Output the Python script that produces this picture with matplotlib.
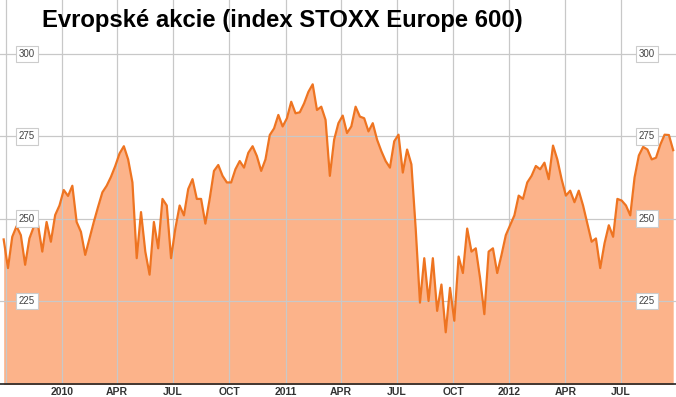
import matplotlib
matplotlib.use("Agg")
import matplotlib.pyplot as plt
import pandas as pd

# Weekly closes of STOXX Europe 600
values = [
    243.7, 235.0, 244.5, 247.7, 245.0, 236.0, 244.0, 247.5, 248.1, 240.0,
    249.0, 243.0, 251.1, 254.0, 258.7, 256.9, 260.0, 249.0, 246.0, 239.0,
    244.0, 249.0, 253.6, 258.0, 260.0, 262.7, 266.0, 269.8, 272.0, 268.0,
    261.0, 238.0, 252.0, 240.0, 233.0, 249.0, 241.0, 256.0, 254.0, 238.0,
    247.0, 254.0, 251.0, 259.0, 262.0, 256.0, 256.0, 248.5, 256.0, 264.5,
    266.3, 263.0, 261.0, 261.0, 265.0, 267.5, 265.5, 270.0, 272.0, 269.0,
    264.5, 268.0, 275.4, 277.4, 281.5, 278.0, 280.5, 285.5, 282.0, 282.3,
    285.0, 288.5, 290.8, 283.0, 284.0, 280.0, 263.0, 274.0, 279.0, 281.3,
    276.0, 278.0, 284.0, 281.0, 280.5, 276.5, 279.0, 274.0, 270.5, 267.5,
    265.5, 273.5, 275.5, 264.0, 271.0, 266.5, 247.0, 224.5, 238.0, 225.0,
    238.0, 222.0, 230.0, 215.5, 229.0, 219.0, 238.5, 233.5, 247.0, 240.0,
    241.0, 232.0, 221.0, 240.0, 241.0, 233.5, 239.0, 245.0, 248.0, 251.0,
    257.0, 256.0, 261.0, 263.0, 266.0, 265.0, 267.0, 262.0, 272.2, 268.0,
    262.0, 257.0, 258.5, 255.0, 258.5, 254.0, 248.5, 243.0, 244.0, 235.0,
    242.5, 248.0, 244.5, 256.0, 255.5, 254.0, 251.0, 262.5, 269.2, 271.8,
    271.0, 268.0, 268.5, 272.5, 275.5, 275.4, 270.8,
]
dates = pd.date_range("2009-09-28", periods=len(values), freq="7D")

tick_dates = pd.date_range("2009-10-01", "2012-07-01", freq="QS")
tick_labels = [str(d.year) if d.month == 1 else d.strftime("%b").upper() for d in tick_dates]
y_ticks = [225, 250, 275, 300]

fill_color = "#fcab7d"
line_color = "#ee7421"

fig = plt.figure(figsize=(6.76, 3.97), dpi=100)
ax = fig.add_axes([0, 13 / 397, 1, 384 / 397])

# grid sits under a slightly see-through fill, like the original
ax.grid(True, color="#c8c8c8", lw=0.9, zorder=0)
ax.fill_between(dates, values, 190, color=fill_color, alpha=0.9, zorder=1, lw=0)
ax.plot(dates, values, color=line_color, lw=1.6, zorder=3)

ax.set_xlim(pd.Timestamp("2009-09-22"), pd.Timestamp("2012-09-28 14:00"))
ax.set_ylim(199.8, 316.4)

ax.set_xticks(tick_dates)
ax.set_xticklabels(tick_labels)
ax.set_yticks(y_ticks)

ax.tick_params(axis="x", length=0, pad=2, labelsize=7.5, labelcolor="#333333")
ax.tick_params(axis="y", length=0, labelleft=False)
for lbl in ax.get_xticklabels():
    lbl.set_fontweight("bold")
    lbl.set_fontfamily("Liberation Sans")
ax.get_xticklabels()[0].set_visible(False)

for s in ["top", "left", "right"]:
    ax.spines[s].set_visible(False)
ax.spines["bottom"].set_color("#222222")
ax.spines["bottom"].set_linewidth(1.2)
ax.spines["bottom"].set_zorder(4)

box = dict(boxstyle="square,pad=0.35", fc="white", ec="#cccccc", lw=0.8)
for v in y_ticks:
    for xf in (27 / 676, 647 / 676):
        ax.text(xf, v, str(v), transform=ax.get_yaxis_transform(), ha="center", va="center",
                fontsize=7, color="#444444", family="Liberation Sans", bbox=box, zorder=5)

fig.text(42.5 / 676, 1 - 27.5 / 397, "Evropské akcie (index STOXX Europe 600)",
         fontsize=17.2, fontweight="bold", family="Liberation Sans", color="black",
         ha="left", va="baseline")

fig.savefig("out.png", dpi=100)
